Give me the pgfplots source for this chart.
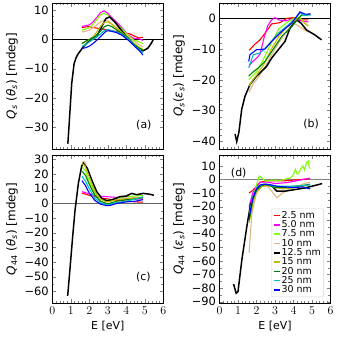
\documentclass[border=0pt]{standalone}
\usepackage{fontspec}
\setmainfont{DejaVu Sans}
\usepackage{pgfplots}
\pgfplotsset{compat=1.18}
\definecolor{cA}{HTML}{FF0000}
\definecolor{cB}{HTML}{FF00FF}
\definecolor{cC}{HTML}{7FFF00}
\definecolor{cD}{HTML}{DEB887}
\definecolor{cE}{HTML}{000000}
\definecolor{cF}{HTML}{BFBF00}
\definecolor{cG}{HTML}{008000}
\definecolor{cH}{HTML}{00BFBF}
\definecolor{cI}{HTML}{0000FF}

\tikzset{
  s25/.style={cA, line width=1.1pt}, s50/.style={cB, line width=1.1pt},
  s75/.style={cC, line width=1.1pt}, s10/.style={cD, line width=1.1pt},
  s125/.style={cE, line width=1.5pt}, s15/.style={cF, line width=1.1pt},
  s20/.style={cG, line width=1.1pt}, s25c/.style={cH, line width=1.1pt},
  s30/.style={cI, line width=1.1pt},
}
\pgfplotsset{
  panel/.style={
    scale only axis, width=111bp, height=146bp,
    xmin=0, xmax=6, xtick={0,...,6},
    minor x tick num=4, minor y tick num=1,
    tick align=inside, xtick pos=both, ytick pos=both,
    major tick length=3.5bp, minor tick length=2bp,
    ticklabel style={font=\fontsize{11.5}{13}\selectfont},
    xlabel style={font=\fontsize{11}{13}\selectfont},
    ylabel style={font=\fontsize{12}{14}\selectfont},
  },
}
\newcommand{\pl}[1]{\fontsize{11}{13}\selectfont #1}

\begin{document}
\begin{tikzpicture}
\path[use as bounding box] (0bp,0bp) rectangle (337bp,-340bp);

% (a)
\begin{axis}[panel, at={(52.3bp,-3bp)}, anchor=north west,
  ymin=-37.5, ymax=12.5, xticklabels={},
  ytick={-30,-20,-10,0,10}, yticklabels={−30,−20,−10,0,10}, minor y tick num=4,
  ylabel={\textit{Q}\textsubscript{\textit{s}} (\textit{θ}\textsubscript{\textit{s}}) [mdeg]}]
\addplot[black, line width=0.8pt, forget plot] coordinates {(0,0) (6,0)};
\addplot[s25] coordinates {(1.6,4.1)(1.8,4.3)(2.0,4.4)(2.3,4.0)(2.6,3.7)(3.0,3.3)(3.4,2.8)(3.8,2.4)(4.2,1.9)(4.5,1.0)(4.7,0.5)(4.9,0.8)};
\addplot[s50] coordinates {(1.6,4.5)(1.8,4.7)(2.0,5.0)(2.2,6.0)(2.4,7.5)(2.6,9.2)(2.8,9.8)(3.0,9.0)(3.2,7.6)(3.5,5.8)(3.8,3.8)(4.1,1.6)(4.4,0.4)(4.7,0.2)(4.9,-0.3)};
\addplot[s75] coordinates {(1.6,3.2)(1.8,3.6)(2.0,4.1)(2.2,5.2)(2.4,6.8)(2.6,8.4)(2.8,9.0)(3.0,8.3)(3.2,7.0)(3.5,5.2)(3.8,3.4)(4.1,1.5)(4.4,-0.2)(4.7,-0.8)(4.9,-1.4)};
\addplot[s10] coordinates {(1.6,2.6)(1.8,2.8)(2.0,3.2)(2.3,4.5)(2.6,6.0)(2.8,6.6)(3.0,6.4)(3.2,5.4)(3.5,4.0)(3.8,2.6)(4.1,1.2)(4.4,-0.5)(4.7,-1.8)(4.9,-2.5)};
\addplot[s125] coordinates {(0.84,-35.7)(0.9,-30)(0.96,-24)(1.05,-15)(1.18,-8.2)(1.3,-6)(1.41,-4.8)(1.68,-2.5)(1.95,-0.8)(2.2,0.2)(2.4,1.0)(2.66,4.3)(2.9,7.2)(3.1,7.7)(3.38,6)(3.73,3.2)(4.09,0.3)(4.45,-1.9)(4.71,-3.6)(4.9,-3.9)(5.16,-3)(5.34,-1.4)(5.46,0)};
\addplot[s15] coordinates {(1.6,-1.4)(1.8,-0.6)(2.0,0.0)(2.2,1.0)(2.4,2.5)(2.6,4.5)(2.8,5.8)(3.0,6.0)(3.2,5.3)(3.5,3.8)(3.8,2.2)(4.1,0.6)(4.4,-1.2)(4.7,-2.6)(4.9,-3.4)};
\addplot[s20] coordinates {(1.6,-1.4)(1.8,-0.6)(2.0,0.0)(2.3,1.0)(2.6,2.8)(2.8,4.3)(3.0,4.9)(3.2,4.5)(3.5,3.2)(3.8,1.9)(4.1,0.6)(4.4,-1.6)(4.7,-3.0)(4.9,-3.6)};
\addplot[s25c] coordinates {(1.6,-2.3)(1.8,-1.8)(2.0,-0.8)(2.3,0.5)(2.6,1.8)(2.8,3.0)(3.0,3.4)(3.2,3.1)(3.5,2.5)(3.8,1.5)(4.1,0.2)(4.4,-1.8)(4.7,-3.5)(4.9,-4.5)};
\addplot[s30] coordinates {(1.6,-3.1)(1.8,-2.8)(2.0,-2.3)(2.2,-1.4)(2.5,0.3)(2.7,1.6)(2.9,2.8)(3.0,3.0)(3.2,2.8)(3.5,2.3)(3.8,1.3)(4.1,-0.2)(4.4,-2.0)(4.7,-3.8)(4.9,-5.3)};
\node at (axis cs:4.95,-29.2) {\pl{(a)}};
\end{axis}

% (b)
\begin{axis}[panel, at={(219.5bp,-3bp)}, anchor=north west,
  ymin=-42.5, ymax=5, xticklabels={},
  ytick={-40,-30,-20,-10,0}, yticklabels={−40,−30,−20,−10,0}, minor y tick num=4,
  ylabel={\textit{Q}\textsubscript{\textit{s}}(\textit{ε}\textsubscript{\textit{s}}) [mdeg]}]
\addplot[black, line width=0.8pt, forget plot] coordinates {(0,0) (6,0)};
\addplot[s25] coordinates {(1.6,-10.4)(1.9,-8.5)(2.19,-7)(2.5,-4.5)(2.82,-1.8)(3.27,-1.4)(3.63,0)(4.08,0.3)(4.44,-0.5)(4.8,-0.5)};
\addplot[s50] coordinates {(1.6,-15.5)(1.8,-14)(2.0,-13)(2.2,-11.5)(2.4,-6.5)(2.6,-2.5)(2.8,-0.6)(3.0,0.3)(3.2,-0.5)(3.6,-0.8)(4.0,0)(4.4,-0.8)(4.8,-1.2)};
\addplot[s75] coordinates {(1.6,-20)(1.8,-18.5)(2.0,-17.5)(2.4,-13)(2.8,-8)(3.2,-3.5)(3.6,-1.5)(4.0,0)(4.3,0.5)(4.6,-1.5)(4.8,-2.5)};
\addplot[s10] coordinates {(1.6,-24)(1.8,-21.5)(2.0,-20)(2.4,-16.5)(2.8,-12)(3.2,-8)(3.6,-4.5)(4.0,-1.5)(4.4,-3)(4.8,-4.5)};
\addplot[s125] coordinates {(0.84,-37.6)(0.93,-40.1)(1.05,-37)(1.2,-29.6)(1.38,-25.3)(1.65,-21.5)(2.0,-18.8)(2.28,-17.2)(2.55,-15.6)(2.82,-12.9)(3.18,-10.2)(3.54,-7.5)(3.81,-3.2)(4.08,-1.1)(4.17,-0.5)(4.4,-1.5)(4.71,-3.8)(5.16,-5.4)(5.52,-7)};
\addplot[s15] coordinates {(1.6,-22)(1.8,-20)(2.0,-18.5)(2.4,-15)(2.8,-10)(3.2,-6)(3.6,-3)(4.0,-1)(4.3,0.3)(4.6,-1.5)(4.8,-2.5)};
\addplot[s20] coordinates {(1.58,-18.8)(1.8,-17.5)(2.1,-16.1)(2.46,-14)(2.82,-10.8)(3.36,-5.9)(3.9,-2.7)(4.2,-0.5)(4.44,1.1)(4.7,1.0)(4.9,1.6)};
\addplot[s25c] coordinates {(1.58,-16.1)(1.83,-11.8)(2.19,-11.3)(2.64,-8.6)(3.18,-4.8)(3.72,-2.1)(4.1,0)(4.35,1.8)(4.6,1.0)(4.93,1.1)};
\addplot[s30] coordinates {(1.58,-14)(1.65,-11.8)(2.0,-10.2)(2.46,-10)(2.82,-7.5)(3.36,-4.3)(3.9,-1.6)(4.35,2.1)(4.62,1.4)(4.93,1.4)};
\node at (axis cs:4.95,-34.4) {\pl{(b)}};
\end{axis}

% (c)
\begin{axis}[panel, at={(52.3bp,-155bp)}, anchor=north west, height=148bp,
  ymin=-68, ymax=33, xlabel={E [eV]},
  ytick={-60,-50,...,30}, yticklabels={−60,−50,−40,−30,−20,−10,0,10,20,30},
  ylabel={\textit{Q}\textsubscript{44} (\textit{θ}\textsubscript{\textit{s}}) [mdeg]}]
\addplot[gray!80!black, line width=0.8pt, forget plot] coordinates {(0,0) (6,0)};
\addplot[s25] coordinates {(1.6,7)(2.0,5.5)(2.5,4)(3.0,3)(3.5,2)(4.0,1.5)(4.5,1)(4.9,0.8)};
\addplot[s50] coordinates {(1.6,8)(2.0,6.5)(2.5,5)(3.0,4.5)(3.5,4)(4.0,3.5)(4.5,3)(4.9,3)};
\addplot[s75] coordinates {(1.6,25)(1.8,22)(2.0,15)(2.3,7)(2.6,3)(2.9,2)(3.2,2.5)(3.5,4)(4.0,4.5)(4.5,5)(4.9,5.5)};
\addplot[s10] coordinates {(1.6,28)(1.75,28.5)(2.0,20)(2.3,9)(2.6,3.5)(2.9,1.5)(3.2,2)(3.5,3)(4.0,3.5)(4.5,4)(4.9,4)};
\addplot[s125] coordinates {(0.83,-63.2)(0.95,-45.6)(1.1,-22.8)(1.23,-4.6)(1.41,13.7)(1.59,25.6)(1.68,27.4)(1.89,24)(2.13,16)(2.4,8)(2.67,3.4)(2.94,1.8)(3.3,2.7)(3.66,4.6)(4.0,5)(4.29,6.8)(4.56,5.9)(4.92,6.8)(5.28,6.2)(5.5,5.5)};
\addplot[s15] coordinates {(1.6,27)(1.75,26)(2.0,18)(2.3,8)(2.6,3)(2.9,1)(3.2,1.5)(3.5,2.5)(4.0,3)(4.5,3.5)(4.9,4)};
\addplot[s20] coordinates {(1.6,22)(1.8,19)(2.0,13)(2.3,5.5)(2.6,1.5)(2.9,0)(3.1,0)(3.5,1.5)(4.0,2.5)(4.5,3)(4.9,4)};
\addplot[s25c] coordinates {(1.6,18.5)(1.8,15)(2.0,10)(2.3,3.5)(2.6,0.5)(2.9,-0.8)(3.1,-0.8)(3.5,0.5)(4.0,1.5)(4.5,3)(4.9,4.5)};
\addplot[s30] coordinates {(1.6,15.5)(1.8,12)(2.0,7)(2.3,2)(2.6,-0.5)(2.9,-1.5)(3.1,-1.5)(3.5,0)(4.0,1)(4.5,1.5)(4.9,2.5)};
\node at (axis cs:4.92,-50.3) {\pl{(c)}};
\end{axis}

% (d)
\begin{axis}[panel, at={(219.5bp,-155bp)}, anchor=north west, height=148bp,
  ymin=-91, ymax=18, xlabel={E [eV]},
  ytick={-90,-80,...,10}, yticklabels={−90,−80,−70,−60,−50,−40,−30,−20,−10,0,10},
  ylabel={\textit{Q}\textsubscript{44} (\textit{ε}\textsubscript{\textit{s}}) [mdeg]},
  legend style={font=\fontsize{9.5}{10}\selectfont, at={(0.94,0.04)}, anchor=south east,
    draw=gray!35, rounded corners=2pt, inner sep=1.5pt, row sep=-1.6pt,
    nodes={inner sep=1.2pt}},
  legend cell align=left,
  legend image code/.code={\draw[#1, line width=1.5pt] (0bp,0bp) -- (6bp,0bp);}]
\addplot[gray, line width=0.8pt, forget plot] coordinates {(0,0) (6,0)};
\addplot[s25] coordinates {(1.6,-10)(1.8,-8)(2.0,-5)(2.2,-2)(2.6,-1)(3.0,-1)(3.5,-1)(4.0,-0.5)(4.5,0)(4.9,0.5)};
\addlegendentry{2.5 nm}
\addplot[s50] coordinates {(1.6,-20)(1.8,-10)(2.0,-5)(2.2,-2)(2.6,-2)(3.0,-3)(3.5,-2.5)(4.0,-1.5)(4.5,0)(4.9,1)};
\addlegendentry{5.0 nm}
\addplot[s75] coordinates {(1.6,-28)(1.8,-15)(2.0,-4)(2.15,2.5)(2.3,1)(2.5,-1.2)(2.9,-0.5)(3.2,-1)(3.5,0)(3.8,1)(3.95,2.5)(4.1,7.4)(4.2,4)(4.3,5)(4.4,8)(4.5,10)(4.6,7)(4.7,12.3)(4.8,13.6)(4.85,9)(4.9,8)};
\addlegendentry{7.5 nm}
\addplot[s10] coordinates {(1.6,-54)(1.75,-25)(2.0,-10)(2.3,-5)(2.6,-5)(2.9,-10)(3.1,-13.5)(3.4,-10)(3.8,-7)(4.2,-5)(4.6,-3)(4.9,-2)};
\addlegendentry{10 nm}
\addplot[s125] coordinates {(0.76,-77)(0.9,-83.8)(1.0,-82.6)(1.21,-59)(1.48,-34.5)(1.66,-19.7)(1.9,-9.9)(2.2,-4.9)(2.48,-3.7)(2.84,-4.9)(3.1,-8.6)(3.56,-8.6)(4.1,-7.4)(4.65,-6.2)(5.37,-3.7)(5.55,-3)};
\addlegendentry{12.5 nm}
\addplot[s15] coordinates {(1.6,-32)(1.8,-18)(2.0,-9)(2.3,-5)(2.6,-4)(3.0,-6)(3.5,-7)(4.0,-6)(4.5,-5)(4.9,-4)};
\addlegendentry{15 nm}
\addplot[s20] coordinates {(1.6,-30)(1.8,-15)(2.0,-8)(2.3,-4)(2.6,-4)(3.0,-6)(3.5,-6)(4.0,-5)(4.5,-4.5)(4.9,-3.5)};
\addlegendentry{20 nm}
\addplot[s25c] coordinates {(1.6,-26)(1.8,-13)(2.0,-6)(2.3,-3.5)(2.6,-3.5)(3.0,-5)(3.5,-5)(4.0,-5)(4.5,-4.5)(4.9,-4)};
\addlegendentry{25 nm}
\addplot[s30] coordinates {(1.6,-28)(1.8,-14)(2.0,-7)(2.2,-4)(2.5,-3.5)(2.8,-4)(3.1,-5)(3.5,-5.5)(4.0,-6)(4.5,-5.5)(4.9,-7)};
\addlegendentry{30 nm}
\node at (axis cs:1.04,4.4) {\pl{(d)}};
\end{axis}
\end{tikzpicture}
\end{document}
